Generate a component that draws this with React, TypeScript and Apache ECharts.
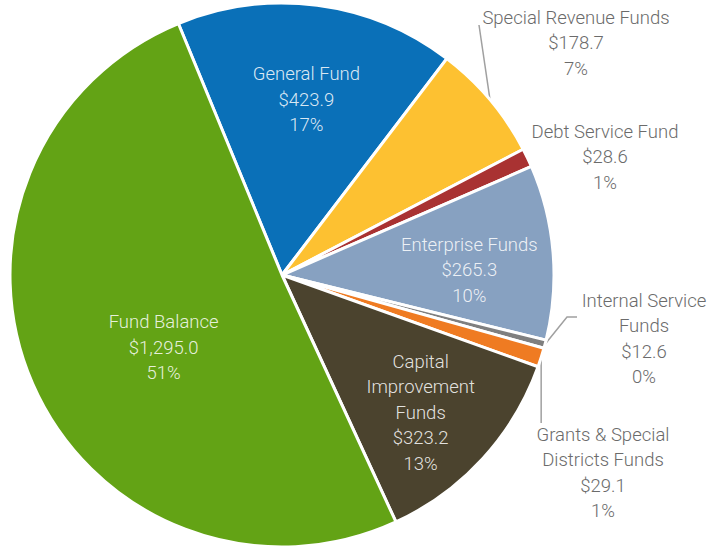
import React, { useEffect, useRef } from "react";
import * as echarts from "echarts";

const categories = [
  "General Fund",
  "Special Revenue Funds",
  "Debt Service Fund",
  "Enterprise Funds",
  "Internal Service\nFunds",
  "Grants & Special\nDistricts Funds",
  "Capital\nImprovement\nFunds",
  "Fund Balance",
];
const values = [423.9, 178.7, 28.6, 265.3, 12.6, 29.1, 323.2, 1295.0];
const colors = ["#0a70b8", "#fdc131", "#a93232", "#87a1c1", "#7f7f7f", "#ef7b22", "#4b432e", "#63a315"];

const total = values.reduce((a, b) => a + b, 0);
const money = (v: number) =>
  "$" + v.toLocaleString("en-US", { minimumFractionDigits: 1, maximumFractionDigits: 1 });
const pct = (v: number) => Math.round((v / total) * 100) + "%";
const labelText = (i: number) => `${categories[i]}\n${money(values[i])}\n${pct(values[i])}`;

const font = {
  fontFamily: "Roboto, 'Noto Sans', sans-serif",
  fontSize: 18.5,
  fontWeight: 300,
  lineHeight: 25.5,
};
const insideColor = "rgba(255,255,255,0.86)";
const outsideColor = "#6b6b6b";

// indices of slices labelled inside (overlay ring) vs outside
const overlayInside = [0, 3, 6];
const outsideIdx = [1, 2, 4, 5];

export default function App() {
  const ref = useRef<HTMLDivElement>(null);
  useEffect(() => {
    if (!ref.current) return;
    const chart = echarts.init(ref.current, null, { renderer: "svg" });
    const center = [282, 275];
    const startAngle = 112.4;

    const mainData = values.map((v, i) => {
      const item: any = {
        name: categories[i],
        value: v,
        itemStyle: { color: colors[i] },
      };
      if (i === 7) {
        item.label = {
          show: true,
          position: "inside",
          color: insideColor,
          offset: [9, 17],
          ...font,
        };
      } else if (outsideIdx.includes(i)) {
        item.label = { show: true, position: "outside", color: outsideColor, ...font };
        item.labelLine = {
          show: i !== 2,
          length: 10,
          length2: 10,
          lineStyle: { color: "#a0a0a0", width: 1.5 },
        };
      }
      return item;
    });

    const overlayData = values.map((v, i) => ({
      name: categories[i],
      value: v,
      itemStyle: { color: "transparent", borderWidth: 0 },
      label: overlayInside.includes(i)
        ? { show: true, position: "inside", color: insideColor, offset: [0, 11], ...font }
        : { show: false },
    }));

    chart.setOption({
      animation: false,
      series: [
        {
          type: "pie",
          center,
          radius: [0, 272],
          startAngle,
          clockwise: true,
          avoidLabelOverlap: false,
          emphasis: { disabled: true },
          itemStyle: { borderColor: "#ffffff", borderWidth: 3 },
          label: { show: false, formatter: (p: any) => labelText(p.dataIndex) },
          labelLine: { show: false },
          data: mainData,
          labelLayout: (p: any) => {
            const pts = p.labelLinePoints;
            const p0 = pts ? pts[0] : [0, 0];
            switch (p.dataIndex) {
              case 1:
                return {
                  x: 576, y: 5, align: "center", verticalAlign: "top",
                  labelLinePoints: [p0, [479, 25], [479, 25]],
                };
              case 2:
                return { x: 605, y: 119, align: "center", verticalAlign: "top" };
              case 4:
                return {
                  x: 644, y: 288, align: "center", verticalAlign: "top",
                  labelLinePoints: [p0, [567, 317], [577, 317]],
                };
              case 5:
                return {
                  x: 603, y: 422, align: "center", verticalAlign: "top",
                  labelLinePoints: [p0, [p0[0], 423], [p0[0], 423]],
                };
              default:
                return {};
            }
          },
        },
        {
          type: "pie",
          center,
          radius: [0, 370],
          startAngle,
          clockwise: true,
          silent: true,
          avoidLabelOverlap: false,
          emphasis: { disabled: true },
          label: { show: false, formatter: (p: any) => labelText(p.dataIndex) },
          labelLine: { show: false },
          data: overlayData,
          z: 5,
        },
      ],
    });
    return () => chart.dispose();
  }, []);
  return (
    <div
      ref={ref}
      style={{ position: "fixed", left: 0, top: 0, width: 710, height: 548, background: "#ffffff" }}
    />
  );
}
